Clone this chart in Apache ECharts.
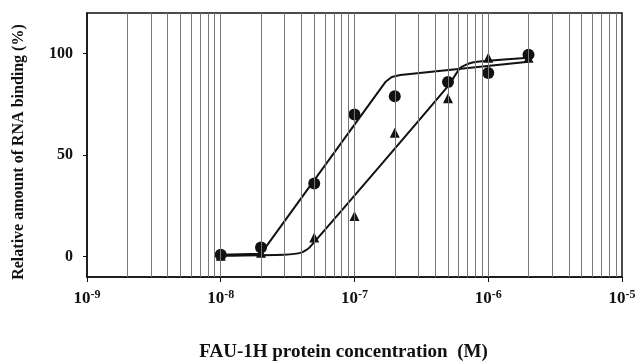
<!DOCTYPE html>
<html>
<head>
<meta charset="utf-8">
<script src="https://cdn.jsdelivr.net/npm/echarts@6/dist/echarts.min.js"></script>
<style>
  html, body { margin: 0; padding: 0; background: #fff; }
  #chart { width: 644px; height: 362px; }
</style>
</head>
<body>
<div id="chart"></div>
<script>
// measured points (concentration in M, % binding)
var concentrations = [1e-8, 2e-8, 5e-8, 1e-7, 2e-7, 5e-7, 1e-6, 2e-6];
var circleValues   = [1, 4.5, 36, 70, 79, 86, 90.5, 99.5];
var triangleValues = [0.5, 2, 9.5, 20, 61, 78, 98, 98];

// fitted curves
var circleFitX = [1e-8, 2e-8, 1.7e-7, 1.9e-7, 2.2e-7, 2e-6];
var circleFitY = [1, 1.5, 86, 88.5, 89.5, 96];
var triangleFitX = [1e-8, 3e-8, 4e-8, 4.6e-8, 5e-7, 6.2e-7, 7.5e-7, 1e-6, 2e-6];
var triangleFitY = [0.5, 1, 2, 4.5, 84, 93, 95.5, 96.5, 98];

var yLabels = [0, 50, 100];
var yMin = -10, yMax = 120;

// vertical grid lines at 1..9 x 10^n
var gridValues = [];
for (var e = -9; e < -5; e++) {
  for (var m = 1; m <= 9; m++) {
    if (e === -9 && m === 1) continue;
    gridValues.push(m * Math.pow(10, e));
  }
}

function pairs(xs, ys) {
  return xs.map(function (x, i) { return [x, ys[i]]; });
}

var chart = echarts.init(document.getElementById('chart'));
var serif = '"Liberation Serif", "DejaVu Serif", serif';

chart.setOption({
  animation: false,
  grid: {
    left: 87, right: 22, top: 13, bottom: 85,
    outerBoundsMode: 'none',
    containLabel: false,
    show: true, borderColor: '#111', borderWidth: 1.5
  },
  xAxis: {
    type: 'log',
    logBase: 10,
    min: 1e-9,
    max: 1e-5,
    name: 'FAU-1H protein concentration  (M)',
    nameLocation: 'middle',
    nameGap: 66,
    nameTextStyle: { fontFamily: serif, fontWeight: 'bold', fontSize: 19, color: '#111', padding: [0, 22, 0, 0] },
    axisLine: { onZero: false, lineStyle: { color: '#111', width: 1.5 } },
    axisTick: { show: true, inside: false, length: 5, lineStyle: { color: '#111' } },
    splitLine: { show: false },
    axisLabel: {
      margin: 12,
      formatter: function (v) {
        var ex = Math.round(Math.log10(v));
        return '{b|10}{s|' + ex + '}';
      },
      rich: {
        b: { fontFamily: serif, fontWeight: 'bold', fontSize: 17, color: '#111' },
        s: { fontFamily: serif, fontWeight: 'bold', fontSize: 12, color: '#111', verticalAlign: 'top', padding: [0, 0, 8, 0] }
      }
    }
  },
  yAxis: {
    type: 'value',
    min: yMin,
    max: yMax,
    interval: 10,
    name: 'Relative amount of RNA binding (%)',
    nameLocation: 'middle',
    nameGap: 60,
    nameRotate: 90,
    nameTextStyle: { fontFamily: serif, fontWeight: 'bold', fontSize: 16, color: '#111', padding: [0, 14, 0, 0] },
    axisLine: { show: true, onZero: false, lineStyle: { color: '#111', width: 1.5 } },
    axisTick: { show: true, length: 4, customValues: yLabels, lineStyle: { color: '#111' } },
    splitLine: { show: false },
    axisLabel: {
      customValues: yLabels,
      margin: 14,
      fontFamily: serif, fontWeight: 'bold', fontSize: 16, color: '#111'
    }
  },
  series: [
    {
      name: 'circle fit',
      type: 'line',
      z: 1,
      data: pairs(circleFitX, circleFitY),
      symbol: 'none',
      lineStyle: { color: '#111', width: 2 },
      markLine: {
        silent: true,
        symbol: ['none', 'none'],
        label: { show: false },
        lineStyle: { color: '#777', width: 1, type: 'solid' },
        emphasis: { disabled: true },
        data: gridValues.map(function (v) {
          return [{ coord: [v, yMin] }, { coord: [v, yMax] }];
        })
      }
    },
    {
      name: 'triangle fit',
      type: 'line',
      z: 2,
      data: pairs(triangleFitX, triangleFitY),
      symbol: 'none',
      smooth: 0.2,
      lineStyle: { color: '#111', width: 2 }
    },
    {
      name: 'circles',
      type: 'scatter',
      z: 3,
      data: pairs(concentrations, circleValues),
      symbol: 'circle',
      symbolSize: 12,
      itemStyle: { color: '#111', opacity: 1 }
    },
    {
      name: 'triangles',
      type: 'scatter',
      z: 3,
      data: pairs(concentrations, triangleValues),
      symbol: 'triangle',
      symbolSize: 10,
      itemStyle: { color: '#111', opacity: 1 }
    }
  ]
});
</script>
</body>
</html>
